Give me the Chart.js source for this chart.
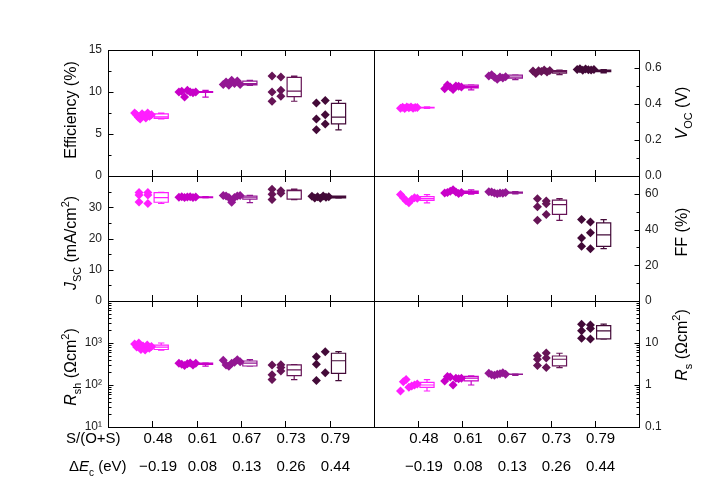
<!DOCTYPE html>
<html>
<head>
<meta charset="utf-8">
<script src="https://cdn.jsdelivr.net/npm/chart.js@4/dist/chart.umd.min.js"></script>
<style>
  html, body { margin: 0; padding: 0; background: #fff; }
  #wrap { position: relative; width: 718px; height: 502px; }
  #wrap canvas { position: absolute; left: 0; top: 0; }
</style>
</head>
<body>
<div id="wrap"></div>
<script>
// categories
var ratio = ['0.48', '0.61', '0.67', '0.73', '0.79'];
var deltaEc = ['\u22120.19', '0.08', '0.13', '0.26', '0.44'];
var colors = ['#FF1EFF', '#C800C8', '#931793', '#661456', '#430A38'];

// raw device values per category
var effPts = [
  [7.5, 7.3, 7.0, 6.8, 7.4, 7.2, 6.9, 7.5, 7.1, 7.3],
  [10.0, 10.1, 9.4, 10.2, 10.0, 9.9, 10.0],
  [10.9, 11.2, 10.8, 11.4, 11.0, 11.3, 10.9],
  [11.9, 11.8, 10.0, 10.2, 8.9, 9.5],
  [8.7, 9.0, 6.8, 7.3, 5.5, 6.2]
];
var effBox = [[6.8, 6.85, 7.05, 7.4, 7.5], [9.4, 9.95, 10.0, 10.05, 10.2], [10.8, 10.85, 11.0, 11.3, 11.4], [8.9, 9.45, 10.1, 11.75, 11.9], [5.5, 6.2, 7.0, 8.65, 9.0]];

var vocPts = [
  [0.377, 0.382, 0.375, 0.384, 0.379, 0.383, 0.376, 0.381, 0.380],
  [0.485, 0.505, 0.495, 0.480, 0.500, 0.498, 0.495],
  [0.555, 0.562, 0.548, 0.538, 0.550, 0.545, 0.552],
  [0.583, 0.570, 0.585, 0.580, 0.589, 0.578, 0.586],
  [0.592, 0.596, 0.588, 0.594, 0.590, 0.589, 0.591]
];
var vocBox = [[0.376, 0.378, 0.380, 0.382, 0.384], [0.479, 0.490, 0.496, 0.505, 0.507], [0.535, 0.543, 0.550, 0.560, 0.562], [0.563, 0.571, 0.580, 0.586, 0.589], [0.573, 0.580, 0.585, 0.589, 0.591]];

var jscPts = [
  [34.7, 34.7, 33.9, 33.9, 31.7, 31.2],
  [33.2, 33.4, 33.1, 33.3, 33.4, 33.1, 33.3],
  [33.8, 33.6, 33.1, 31.6, 33.1, 33.6, 33.8],
  [35.8, 35.3, 34.2, 34.5, 32.5],
  [33.5, 33.0, 33.4, 32.9, 33.6, 33.2, 33.4]
];
var jscBox = [[31.2, 31.6, 33.1, 34.7, 34.8], [33.0, 33.1, 33.2, 33.3, 33.4], [31.5, 32.6, 33.2, 33.6, 33.8], [32.4, 32.6, 35.3, 35.5, 35.8], [32.9, 33.0, 33.3, 33.6, 33.6]];

var ffPts = [
  [59.6, 57.8, 56.2, 55.0, 56.8, 57.8, 57.5],
  [60.5, 60.8, 61.5, 62.3, 61.0, 60.2, 60.8],
  [61.2, 61.0, 60.5, 60.0, 60.5, 60.3, 60.8],
  [57.3, 56.0, 52.8, 54.5, 45.2, 48.5],
  [35.3, 38.2, 45.6, 44.3, 30.6, 29.3]
];
var ffBox = [[55.0, 56.4, 57.3, 58.5, 59.6], [59.8, 60.2, 60.8, 61.5, 62.3], [60.0, 60.4, 60.7, 61.0, 61.2], [45.2, 48.5, 54.0, 56.5, 57.3], [29.3, 30.6, 37.0, 43.8, 45.6]];

var rshPts = [
  [950, 800, 1000, 700, 850, 680, 900, 750, 820],
  [330, 310, 290, 320, 335, 300, 330],
  [390, 300, 280, 330, 350, 400, 360],
  [300, 305, 135, 260, 175, 215],
  [128, 620, 470, 195, 310]
];
var rshBox = [[680, 700, 800, 890, 1000], [280, 310, 320, 330, 335], [280, 283, 330, 373, 400], [135, 167, 228, 300, 305], [127, 190, 378, 570, 620]];

var rsPts = [
  [0.72, 1.2, 1.35, 0.88, 0.95, 1.0, 1.05],
  [1.25, 1.6, 1.55, 1.0, 1.45, 1.4, 1.45],
  [1.9, 1.75, 1.7, 1.8, 1.85, 1.95, 1.8],
  [2.9, 2.6, 5.0, 5.8, 4.1, 4.4],
  [28, 27, 19.5, 22, 13, 12.5]
];
var rsBox = [[0.72, 0.88, 1.0, 1.15, 1.35], [1.0, 1.25, 1.45, 1.6, 1.65], [1.7, 1.78, 1.8, 1.83, 1.85], [2.6, 2.85, 4.1, 4.9, 5.7], [12.3, 12.5, 19.4, 25.9, 28]];

// tick values and labels
var effTicks = [0, 5, 10, 15], effLabels = ['0', '5', '10', '15'];
var vocTicks = [0, 0.2, 0.4, 0.6], vocLabels = ['0.0', '0.2', '0.4', '0.6'];
var jscTicks = [0, 10, 20, 30, 40], jscLabels = ['0', '10', '20', '30', ''];
var ffTicks = [0, 20, 40, 60], ffLabels = ['0', '20', '40', '60'];
var rshTicks = [10, 100, 1000, 10000], rshLabels = ['10\u00B9', '10\u00B2', '10\u00B3', ''];
var rsTicks = [0.1, 1, 10, 100], rsLabels = ['0.1', '1', '10', ''];

var FONT = '"Liberation Sans", Arial, sans-serif';

var panels = [
  { pts: effPts, box: effBox, ticks: effTicks, labels: effLabels, min: 0, max: 15, minor: 2.5,
    side: 'left', rect: [108, 50, 374, 176], tpos: [70, 110],
    title: [{ t: 'Efficiency (%)' }] },
  { pts: vocPts, box: vocBox, ticks: vocTicks, labels: vocLabels, min: 0, max: 0.7, minor: 0.1,
    side: 'right', rect: [374, 50, 639, 176], tpos: [681, 113],
    title: [{ t: 'V', it: 1 }, { t: 'OC', sub: 1 }, { t: ' (V)' }] },
  { pts: jscPts, box: jscBox, ticks: jscTicks, labels: jscLabels, min: 0, max: 40, minor: 5,
    side: 'left', rect: [108, 176, 374, 301], tpos: [70, 243],
    title: [{ t: 'J', it: 1 }, { t: 'SC', sub: 1 }, { t: ' (mA/cm' }, { t: '2', sup: 1 }, { t: ')' }] },
  { pts: ffPts, box: ffBox, ticks: ffTicks, labels: ffLabels, min: 0, max: 70, minor: 10,
    side: 'right', rect: [374, 176, 639, 301], tpos: [681, 232],
    title: [{ t: 'FF (%)' }] },
  { pts: rshPts, box: rshBox, ticks: rshTicks, labels: rshLabels, min: 10, max: 10000, log: true,
    side: 'left', rect: [108, 301, 374, 427], tpos: [70, 367], bottom: true, rowTitles: true,
    title: [{ t: 'R', it: 1 }, { t: 'sh', sub: 1 }, { t: ' (\u03A9cm' }, { t: '2', sup: 1 }, { t: ')' }] },
  { pts: rsPts, box: rsBox, ticks: rsTicks, labels: rsLabels, min: 0.1, max: 100, log: true,
    side: 'right', rect: [374, 301, 639, 427], tpos: [681, 345], bottom: true,
    title: [{ t: 'R', it: 1 }, { t: 's', sub: 1 }, { t: ' (\u03A9cm' }, { t: '2', sup: 1 }, { t: ')' }] }
];

// rotated title with italic / sub / superscript pieces
function drawRich(ctx, pieces, cx, cy, size) {
  function font(p) {
    var s = (p.sub || p.sup) ? size * 0.68 : size;
    return (p.it ? 'italic ' : '') + s + 'px ' + FONT;
  }
  var w = 0;
  pieces.forEach(function (p) { ctx.font = font(p); p.w = ctx.measureText(p.t).width; w += p.w; });
  ctx.save();
  ctx.translate(cx, cy);
  ctx.rotate(-Math.PI / 2);
  ctx.fillStyle = '#000';
  ctx.textBaseline = 'alphabetic';
  var x = -w / 2, base = size * 0.36;
  pieces.forEach(function (p) {
    ctx.font = font(p);
    var dy = p.sub ? size * 0.3 : (p.sup ? -size * 0.42 : 0);
    ctx.fillText(p.t, x, base + dy);
    x += p.w;
  });
  ctx.restore();
}

// x offsets of the points inside a category (scatter beside the box)
function offsets(n) {
  var out = [];
  for (var j = 0; j < n; j++) {
    if (n <= 6) out.push(j % 2 ? -0.1 : -0.3);
    else out.push(-0.4 + 0.38 * j / (n - 1));
  }
  return out;
}

var framePlugin = {
  id: 'frame',
  afterDatasetsDraw: function (chart) {
    var p = chart.options.panel, ctx = chart.ctx;
    var xs = chart.scales.x, ys = chart.scales.y, a = chart.chartArea;
    ctx.save();
    // box plots
    ctx.lineWidth = 1.2;
    p.box.forEach(function (b, i) {
      var xc = xs.getPixelForValue(i + 0.2);
      var hw = xs.getPixelForValue(i + 0.36) - xc;
      var cap = hw * 0.45;
      var py = b.map(function (v) { return ys.getPixelForValue(v); });
      ctx.strokeStyle = colors[i];
      ctx.beginPath();
      ctx.rect(xc - hw, py[3], 2 * hw, py[1] - py[3]);
      ctx.moveTo(xc - hw, py[2]); ctx.lineTo(xc + hw, py[2]);
      ctx.moveTo(xc, py[3]); ctx.lineTo(xc, py[4]);
      ctx.moveTo(xc - cap, py[4]); ctx.lineTo(xc + cap, py[4]);
      ctx.moveTo(xc, py[1]); ctx.lineTo(xc, py[0]);
      ctx.moveTo(xc - cap, py[0]); ctx.lineTo(xc + cap, py[0]);
      ctx.stroke();
    });
    // frame
    ctx.strokeStyle = '#000';
    ctx.lineWidth = 1;
    ctx.strokeRect(a.left + 0.5, a.top + 0.5, a.right - a.left, a.bottom - a.top);
    ctx.beginPath();
    // x ticks, top and bottom, inward
    for (var i = 0; i < ratio.length; i++) {
      var x = Math.round(xs.getPixelForValue(i)) + 0.5;
      ctx.moveTo(x, a.top); ctx.lineTo(x, a.top + 6);
      ctx.moveTo(x, a.bottom); ctx.lineTo(x, a.bottom - 6);
    }
    // y ticks, inward on the labelled side
    var edge = p.side === 'left' ? a.left + 0.5 : a.right + 0.5;
    var dir = p.side === 'left' ? 1 : -1;
    function yt(v, len) {
      var y = Math.round(ys.getPixelForValue(v)) + 0.5;
      ctx.moveTo(edge, y); ctx.lineTo(edge + dir * len, y);
    }
    p.ticks.forEach(function (v) { yt(v, 5); });
    if (p.log) {
      for (var d = p.min; d < p.max; d *= 10) {
        for (var k = 2; k < 10; k++) yt(d * k, 3);
      }
    } else {
      for (var v = p.min + p.minor; v < p.max; v += p.minor) yt(v, 3);
    }
    ctx.stroke();
    // axis title
    drawRich(ctx, p.title, p.tpos[0], p.tpos[1], 16);
    // category rows under the bottom panels
    if (p.bottom) {
      var r1 = 439, r2 = 467;
      ctx.fillStyle = '#000';
      ctx.font = '15px ' + FONT;
      ctx.textAlign = 'center';
      ctx.textBaseline = 'middle';
      for (var c = 0; c < ratio.length; c++) {
        var lx = xs.getPixelForValue(c + 0.13);
        ctx.fillText(ratio[c], lx, r1);
        ctx.fillText(deltaEc[c], lx, r2);
      }
      if (p.rowTitles) {
        ctx.textAlign = 'left';
        ctx.fillText('S/(O+S)', 66, r1);
        var x0 = 69;
        ctx.fillText('\u0394', x0, r2); x0 += ctx.measureText('\u0394').width;
        ctx.font = 'italic 15px ' + FONT;
        ctx.fillText('E', x0, r2); x0 += ctx.measureText('E').width;
        ctx.font = '10px ' + FONT;
        ctx.fillText('c', x0, r2 + 6); x0 += ctx.measureText('c').width;
        ctx.font = '15px ' + FONT;
        ctx.fillText(' (eV)', x0, r2);
      }
    }
    ctx.restore();
  }
};

var wrap = document.getElementById('wrap');
panels.forEach(function (p) {
  var cv = document.createElement('canvas');
  cv.width = 718; cv.height = 502;
  cv.style.width = '718px'; cv.style.height = '502px';
  wrap.appendChild(cv);

  var datasets = p.pts.map(function (vals, i) {
    var off = offsets(vals.length);
    return {
      data: vals.map(function (v, j) { return { x: i + off[j], y: v }; }),
      pointStyle: 'rectRot',
      pointRadius: 4.5,
      backgroundColor: colors[i],
      borderColor: colors[i],
      borderWidth: 0
    };
  });

  var axisW = 40;
  var r = p.rect;
  new Chart(cv, {
    type: 'scatter',
    data: { datasets: datasets },
    plugins: [framePlugin],
    options: {
      panel: p,
      responsive: false,
      animation: false,
      events: [],
      layout: {
        padding: p.side === 'left'
          ? { left: r[0] - axisW, top: r[1], right: 718 - r[2], bottom: 502 - r[3] }
          : { left: r[0], top: r[1], right: 718 - r[2] - axisW, bottom: 502 - r[3] }
      },
      plugins: { legend: { display: false }, tooltip: { enabled: false } },
      scales: {
        x: { type: 'linear', min: -1, max: 5, display: false },
        y: {
          type: p.log ? 'logarithmic' : 'linear',
          position: p.side,
          min: p.min, max: p.max,
          afterFit: function (s) { s.width = axisW; },
          afterBuildTicks: function (s) { s.ticks = p.ticks.map(function (v) { return { value: v }; }); },
          grid: { display: false, drawTicks: false },
          border: { display: false },
          ticks: {
            autoSkip: false,
            padding: 6,
            color: '#222',
            font: { family: FONT, size: 12 },
            callback: function (v) { return p.labels[p.ticks.indexOf(v)]; }
          }
        }
      }
    }
  });
});
</script>
</body>
</html>
